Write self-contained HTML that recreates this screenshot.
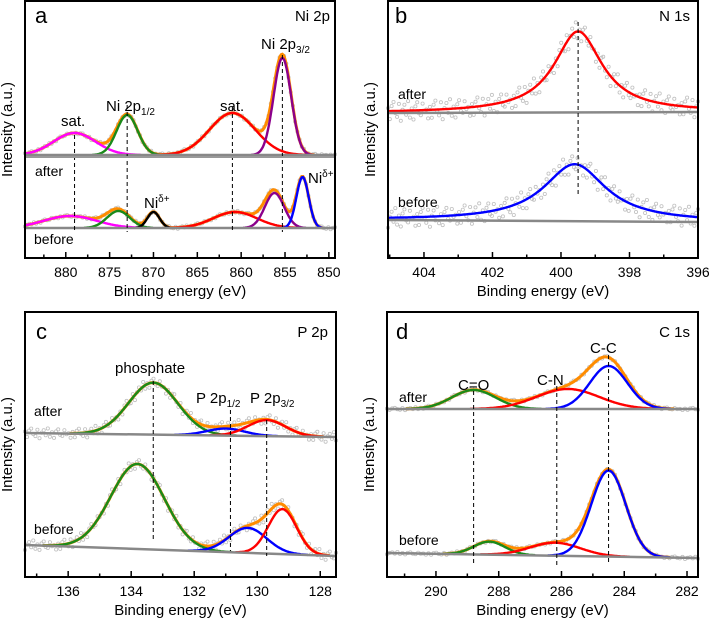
<!DOCTYPE html>
<html><head><meta charset="utf-8"><style>
html,body{margin:0;padding:0;background:#fff}
svg{display:block;font-family:"Liberation Sans",sans-serif}
</style></head><body>
<svg id="fig" width="709" height="619" viewBox="0 0 709 619"></svg>
<script>
// ---------- data ----------
// panel a (Ni 2p)
const aTicks=[880,875,870,865,860,855,850];
const aAfterCenters=[879,873,861,855.3];
const aAfterHeights=[22,40,42,97];
const aAfterWidths=[2.4,1.2,2.6,1.0];
const aAfterColors=["#ff00ff","#1a8a1a","#ff0000","#8b008b"];
const aBeforeCenters=[879.5,874,870,860.7,856.2,853];
const aBeforeHeights=[12,17,16,16,35,51];
const aBeforeWidths=[3,1.3,0.7,2.5,1.1,0.7];
const aBeforeColors=["#ff00ff","#1a8a1a","#000000","#ff0000","#8b008b","#0000ff"];
const aDashes=[879,873,861,855.3];
// panel b (N 1s)
const bTicks=[404,402,400,398,396];
const bAfterCenters=[399.5];const bAfterHeights=[81];const bAfterWidths=[0.85];
const bBeforeCenters=[399.6];const bBeforeHeights=[57];const bBeforeWidths=[1.1];
const bDashes=[399.5];
// panel c (P 2p)
const cTicks=[136,134,132,130,128];
const cAfterCenters=[133.3,131.0,129.7];
const cAfterHeights=[52,7,16];
const cAfterWidths=[0.78,0.6,0.6];
const cBeforeCenters=[133.8,130.3,129.2];
const cBeforeHeights=[85,25,45];
const cBeforeWidths=[0.85,0.6,0.45];
const cColors=["#1a8a1a","#0000ff","#ff0000"];
const cDashes=[133.3,130.85,129.7];
// panel d (C 1s)
const dTicks=[290,288,286,284,282];
const dAfterCenters=[288.8,285.8,284.5];
const dAfterHeights=[19,20,43];
const dAfterWidths=[0.7,1.0,0.6];
const dBeforeCenters=[288.3,286.2,284.5];
const dBeforeHeights=[13,13,86];
const dBeforeWidths=[0.5,0.8,0.55];
const dColors=["#1a8a1a","#ff0000","#0000ff"];
const dDashes=[288.8,286.15,284.5];
// fixed measurement scatter offsets (cyclic)
const noise=[0.3,-0.8,0.5,0.9,-0.2,-0.6,0.7,-1,0.1,0.6,-0.4,0.95,-0.7,0.2,-0.9,0.4,0.8,-0.3,-0.5,0.65,-0.15,0.05,-0.85];

// ---------- helpers ----------
const NS="http://www.w3.org/2000/svg";
const svg=document.getElementById('fig');
function el(tag,attrs,parent){const e=document.createElementNS(NS,tag);for(const k in attrs)e.setAttribute(k,attrs[k]);(parent||svg).appendChild(e);return e;}
function gauss(x,c,h,w){return h*Math.exp(-0.5*((x-c)/w)**2);}
function lor(x,c,h,w){return h/(1+((x-c)/w)**2);}

function panel(cfg){
  const g=el('g',{});
  
  
  const X=v=>cfg.x0+(cfg.d0-v)/(cfg.d0-cfg.d1)*(cfg.x1-cfg.x0);
  const Y=v=>cfg.yb-v;
  cfg.spectra.forEach((sp,si)=>{
    const sg=el('g',{},g);
    
    
    const base=x=>sp.bl+(sp.br-sp.bl)*(cfg.d0-x)/(cfg.d0-cfg.d1);
    const f=cfg.lor?lor:gauss;
    const N=300;const xs=[];
    for(let i=0;i<=N;i++)xs.push(cfg.d0+(cfg.d1-cfg.d0)*i/N);
    const comp=(k,x)=>f(x,sp.c[k],sp.h[k],sp.w[k]);
    const sum=x=>{let s=0;for(let k=0;k<sp.c.length;k++)s+=comp(k,x);return s;};
    const M=cfg.nPts;
    for(let i=0;i<=M;i++){
      const x=cfg.d0+(cfg.d1-cfg.d0)*i/M;
      const v=base(x)+sum(x)+noise[(i+si*7)%noise.length]*cfg.noiseAmp;
      const c=el('circle',{cx:X(x).toFixed(1),cy:Y(v).toFixed(1),r:1.6,fill:'none',stroke:'#c0c0c0','stroke-width':0.8},sg);
      
      
    }
    const path=fn=>{const pts=xs.filter(x=>fn(x)>0.15);if(!pts.length)return '';return pts.map((x,i)=>(i?'L':'M')+X(x).toFixed(1)+','+Y(base(x)+fn(x)).toFixed(1)).join('');};
    if(sp.c.length>1){
      const e=el('path',{d:path(sum),stroke:'#ff8c00',fill:'none','stroke-width':3},sg);
      
      
    }
    for(let k=0;k<sp.c.length;k++){
      const e=el('path',{d:path(x=>comp(k,x)),stroke:sp.col[k],fill:'none','stroke-width':2.4},sg);
      
      
    }
    const bp=el('path',{d:'M'+X(cfg.d0)+','+Y(base(cfg.d0))+'L'+X(cfg.d1)+','+Y(base(cfg.d1)),stroke:'#888',fill:'none','stroke-width':2.5},sg);
    
    
  });
  cfg.dashes.forEach((d,i)=>{
    const e=el('line',{x1:X(d),x2:X(d),y1:cfg.dy[i][0],y2:cfg.dy[i][1],stroke:'#000','stroke-width':1,'stroke-dasharray':'4,3'},g);
    
    
  });
  if(cfg.sep){const e=el('line',{x1:cfg.x0,x2:cfg.x1,y1:cfg.sep,y2:cfg.sep,stroke:'#999','stroke-width':2},g);
    }
  const fr=el('rect',{x:cfg.x0,y:cfg.yt,width:cfg.x1-cfg.x0,height:cfg.ybot-cfg.yt,fill:'none',stroke:'#000','stroke-width':2},g);
  
  
  const step=cfg.ticks[0]-cfg.ticks[1];
  for(let v=cfg.ticks[0]+step;v>=cfg.ticks[cfg.ticks.length-1]-step;v-=step/2){
    const x=X(v);if(x<cfg.x0+1||x>cfg.x1-1)continue;
    const major=cfg.ticks.some(t=>Math.abs(t-v)<1e-6);
    el('line',{x1:x,x2:x,y1:cfg.ybot,y2:cfg.ybot-(major?6:3.5),stroke:'#000','stroke-width':1.5},g);
  }
  cfg.ticks.forEach(t=>{
    const e=el('text',{x:X(t),y:cfg.ybot+19,'text-anchor':'middle','font-size':14},g);
    e.textContent=t;
    
    
  });
  const xt=el('text',{x:(cfg.x0+cfg.x1)/2,y:cfg.ybot+38,'text-anchor':'middle','font-size':15},g);
  xt.textContent='Binding energy (eV)';
  
  
  const cy=(cfg.yt+cfg.ybot)/2;
  const yt=el('text',{x:cfg.x0-13,y:cy,'text-anchor':'middle','font-size':15,transform:`rotate(-90 ${cfg.x0-13} ${cy})`},g);
  yt.textContent='Intensity (a.u.)';
  
  
  cfg.labels.forEach(l=>{
    const e=el('text',{x:l[1],y:l[2],'font-size':l[3]||14,'text-anchor':l[4]||'start'},g);
    e.innerHTML=l[0];
    
    
  });
}
const sub=(a,b)=>`${a}<tspan font-size="10" dy="4">${b}</tspan>`;
const sup=(a,b)=>`${a}<tspan font-size="10" dy="-6">${b}</tspan>`;

panel({name:'panel-a-ni2p',x0:25,x1:335,d0:884.65,d1:849.3,yt:1,ybot:258,yb:258,ticks:aTicks,nPts:140,noiseAmp:1.2,sep:157,
 spectra:[{name:'after-spectrum',bl:103,br:103,c:aAfterCenters,h:aAfterHeights,w:aAfterWidths,col:aAfterColors},
          {name:'before-spectrum',bl:30,br:30,c:aBeforeCenters,h:aBeforeHeights,w:aBeforeWidths,col:aBeforeColors}],
 dashes:aDashes,dy:[[135,232],[105,232],[107,232],[55,232]],
 labels:[['a',35,23,22,'start','panel-letter'],['Ni 2p',330,21,15,'end','panel-title'],['sat.',61,126,15],[sub('Ni 2p','1/2'),106,111,15],['sat.',220,111,15],
  [sub('Ni 2p','3/2'),261,49,15],['after',35,176],[sup('Ni','δ+'),144,208,15],[sup('Ni','δ+'),308,183,15],['before',34,244]]});
panel({name:'panel-b-n1s',x0:388,x1:698,d0:405.05,d1:396,yt:1,ybot:258,yb:258,ticks:bTicks,nPts:170,noiseAmp:10,lor:true,
 spectra:[{name:'after-spectrum',bl:145,br:146,c:bAfterCenters,h:bAfterHeights,w:bAfterWidths,col:['#ff0000']},
          {name:'before-spectrum',bl:38,br:36,c:bBeforeCenters,h:bBeforeHeights,w:bBeforeWidths,col:['#0000ff']}],
 dashes:bDashes,dy:[[22,197]],
 labels:[['b',395,23,22,'start','panel-letter'],['N 1s',690,21,15,'end','panel-title'],['after',398,99],['before',398,207]]});
panel({name:'panel-c-p2p',x0:25,x1:336,d0:137.37,d1:127.5,yt:312,ybot:577,yb:577,ticks:cTicks,nPts:150,noiseAmp:5,
 spectra:[{name:'after-spectrum',bl:144,br:140,c:cAfterCenters,h:cAfterHeights,w:cAfterWidths,col:cColors},
          {name:'before-spectrum',bl:32,br:21,c:cBeforeCenters,h:cBeforeHeights,w:cBeforeWidths,col:cColors}],
 dashes:cDashes,dy:[[381,540],[410,551],[420,556]],
 labels:[['c',36,339,22,'start','panel-letter'],['P 2p',328,337,15,'end','panel-title'],['phosphate',115,373,15],[sub('P 2p','1/2'),196,403,15],[sub('P 2p','3/2'),250,403,15],
  ['after',34,416],['before',34,534]]});
panel({name:'panel-d-c1s',x0:387,x1:698,d0:291.56,d1:281.65,yt:312,ybot:577,yb:577,ticks:dTicks,nPts:120,noiseAmp:1.2,
 spectra:[{name:'after-spectrum',bl:168,br:168,c:dAfterCenters,h:dAfterHeights,w:dAfterWidths,col:dColors},
          {name:'before-spectrum',bl:24,br:19,c:dBeforeCenters,h:dBeforeHeights,w:dBeforeWidths,col:dColors}],
 dashes:dDashes,dy:[[391,565],[386,565],[355,565]],
 labels:[['d',396,339,22,'start','panel-letter'],['C 1s',690,337,15,'end','panel-title'],['C=O',458,390,15],['C-N',537,385,15],['C-C',590,353,15],
  ['after',399,402],['before',399,545]]});
</script>
</body></html>
